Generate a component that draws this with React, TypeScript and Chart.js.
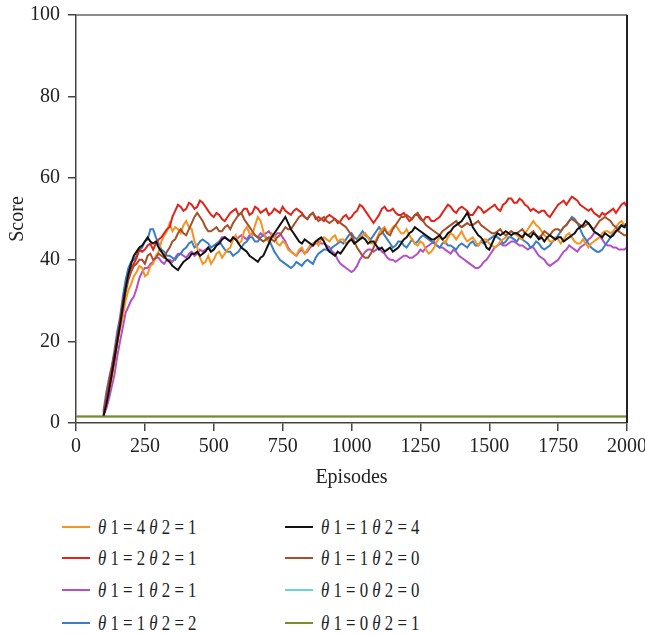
import React, { useEffect, useRef } from "react";
import { Chart, registerables } from "chart.js";

Chart.register(...registerables);

// Episode grid for the learning curves (every 10 episodes from 100 to 2000)
const EPISODES = [
  100, 110, 120, 130, 140, 150, 160, 170, 180, 190,
  200, 210, 220, 230, 240, 250, 260, 270, 280, 290,
  300, 310, 320, 330, 340, 350, 360, 370, 380, 390,
  400, 410, 420, 430, 440, 450, 460, 470, 480, 490,
  500, 510, 520, 530, 540, 550, 560, 570, 580, 590,
  600, 610, 620, 630, 640, 650, 660, 670, 680, 690,
  700, 710, 720, 730, 740, 750, 760, 770, 780, 790,
  800, 810, 820, 830, 840, 850, 860, 870, 880, 890,
  900, 910, 920, 930, 940, 950, 960, 970, 980, 990,
  1000, 1010, 1020, 1030, 1040, 1050, 1060, 1070, 1080, 1090,
  1100, 1110, 1120, 1130, 1140, 1150, 1160, 1170, 1180, 1190,
  1200, 1210, 1220, 1230, 1240, 1250, 1260, 1270, 1280, 1290,
  1300, 1310, 1320, 1330, 1340, 1350, 1360, 1370, 1380, 1390,
  1400, 1410, 1420, 1430, 1440, 1450, 1460, 1470, 1480, 1490,
  1500, 1510, 1520, 1530, 1540, 1550, 1560, 1570, 1580, 1590,
  1600, 1610, 1620, 1630, 1640, 1650, 1660, 1670, 1680, 1690,
  1700, 1710, 1720, 1730, 1740, 1750, 1760, 1770, 1780, 1790,
  1800, 1810, 1820, 1830, 1840, 1850, 1860, 1870, 1880, 1890,
  1900, 1910, 1920, 1930, 1940, 1950, 1960, 1970, 1980, 1990,
  2000,
];

const FLAT_EPISODES = [0, 2000];

const X_TICKS = [0, 250, 500, 750, 1000, 1250, 1500, 1750, 2000];
const Y_TICKS = [0, 20, 40, 60, 80, 100];

// θ1 = 4 θ2 = 1
const S_4_1 = [
  2, 5.5, 8, 11, 15, 19.5, 23, 26, 30, 32.5,
  34, 36, 37, 38.5, 38, 36, 36.5, 38.5, 39, 41,
  42, 44.5, 46, 47, 49, 47, 48, 47.5, 46.5, 48.5,
  49.5, 48, 47.5, 44.5, 43, 40.5, 39, 39.5, 41, 39,
  40, 41.5, 42, 40.5, 41.5, 42.5, 43, 45, 46, 44,
  44.5, 47, 48, 46.5, 46, 48.5, 50.5, 49.5, 47, 45,
  44.5, 46.5, 46, 44, 43.5, 44.5, 44, 42.5, 42, 41.5,
  41, 42.5, 43, 41.5, 42.5, 43.5, 44, 44.5, 43.5, 45,
  45.5, 45, 44.5, 45.5, 46, 44.5, 45, 45, 44, 44.5,
  45.5, 44, 44.5, 45.5, 46, 46.5, 45.5, 44, 44, 45,
  46.5, 47.5, 48, 46.5, 47, 48, 48.5, 47.5, 46.5, 46.5,
  47.5, 46, 45, 44, 43.5, 44.5, 44, 42.5, 41.5, 42,
  43, 44.5, 45.5, 45, 44, 45.5, 46.5, 46, 45, 46,
  47, 45.5, 44.5, 45, 45.5, 44.5, 43.5, 44.5, 45, 45,
  44, 43.5, 43, 43.5, 44.5, 45, 45.5, 46.5, 47, 46.5,
  46, 45.5, 45, 46.5, 47.5, 48.5, 49.5, 48.5, 48, 47,
  46, 45.5, 44.5, 44.5, 45.5, 45, 44, 45, 46, 46.5,
  45.5, 44.5, 44, 44, 45, 44, 43, 44, 44.5, 45,
  45.5, 46.5, 47, 47, 46.5, 47, 48, 49, 49.5, 48.5,
  49,
];

// θ1 = 2 θ2 = 1
const S_2_1 = [
  2.5, 6, 10, 13.5, 17, 21, 25, 29.5, 33, 36,
  38, 39, 40.5, 42.5, 42, 42.5, 43.5, 44, 42.5, 44,
  45, 45.5, 46.5, 47.5, 48, 50.5, 52, 53.5, 53, 52,
  52.5, 54, 53.5, 52.5, 53, 54.5, 54, 53, 52, 51,
  50.5, 51.5, 51, 50, 49.5, 50.5, 51.5, 52, 52.5, 51,
  51.5, 52.5, 52.5, 51, 51.5, 53, 52.5, 51.5, 52, 52.5,
  51, 51.5, 52.5, 52, 51.5, 53, 52, 51.5, 51, 52,
  52.5, 52, 51.5, 50.5, 50, 51, 51.5, 50, 50.5, 50,
  49.5, 50.5, 51, 50.5, 50, 49, 49.5, 50.5, 51, 50,
  50.5, 51.5, 52, 53.5, 53, 52, 51, 50, 49, 50,
  51, 52.5, 53, 52, 52, 52.5, 51.5, 51, 51, 51.5,
  50.5, 49.5, 50, 51, 51, 50, 49.5, 50.5, 50.5, 49.5,
  49.5, 50, 50.5, 51.5, 52.5, 53.5, 53, 52, 51.5, 52.5,
  53, 52.5, 52, 51, 51, 52, 53, 52.5, 51.5, 52,
  52.5, 53, 53.5, 52.5, 52, 53.5, 54, 55, 55, 54,
  54, 55, 54.5, 53.5, 53, 52, 52.5, 52, 51.5, 52,
  52, 51, 50.5, 51.5, 52.5, 53.5, 54, 54.5, 53.5, 54.5,
  55.5, 55, 54.5, 53.5, 53, 52.5, 52, 52.5, 51.5, 51,
  50.5, 51.5, 51, 51.5, 52, 52.5, 51.5, 52.5, 53.5, 54,
  53,
];

// θ1 = 1 θ2 = 1
const S_1_1 = [
  1.8, 3.5, 6, 9, 12, 16.5, 20, 23.5, 27, 28.5,
  30, 31, 33, 35.5, 37, 38, 38, 39, 39.5, 40.5,
  40.5, 39.5, 39, 40, 40, 39.5, 40.5, 41.5, 41.5, 41,
  40.5, 41.5, 42, 41, 41.5, 42.5, 42, 42.5, 43, 42,
  42.5, 43.5, 44.5, 45.5, 45.5, 45, 44.5, 45.5, 45, 45.5,
  46, 45.5, 45, 46, 46.5, 46, 45.5, 46.5, 46, 46.5,
  47, 46, 45.5, 46.5, 46.5, 45.5, 44.5, 43, 42, 41.5,
  41, 42, 42.5, 41.5, 42, 43, 43.5, 44, 44.5, 44,
  44, 43.5, 43, 42, 41.5, 40, 39, 38.5, 38, 37.5,
  37, 37.5, 38.5, 40, 41, 42, 42.5, 42.5, 42, 42.5,
  43, 42, 41.5, 40.5, 40, 40, 39.5, 40, 40.5, 41,
  41, 40.5, 40.5, 41, 41.5, 42.5, 42, 43, 43.5, 44,
  44.5, 43.5, 43, 43, 42.5, 42, 41.5, 42.5, 42, 41,
  40.5, 40, 39.5, 39, 38.5, 38, 38, 38.5, 39.5, 40,
  41, 42, 43, 43.5, 44, 43.5, 43.5, 44, 44.5, 44.5,
  44, 43.5, 43.5, 43, 42.5, 43, 43, 42, 41, 40.5,
  40, 39, 38.5, 39, 39.5, 40, 41, 42, 42.5, 43.5,
  43, 42.5, 42, 43, 43.5, 44, 45, 45.5, 46.5, 46.5,
  46, 45, 44, 43.5, 43.5, 43, 43, 42.5, 42.5, 42.5,
  43,
];

// θ1 = 1 θ2 = 2
const S_1_2 = [
  3, 7.5, 11, 14, 18, 22.5, 26, 31, 35, 38,
  39.5, 40, 41, 42.5, 43, 44.5, 45, 47.5, 47.5, 45.5,
  44, 42.5, 42, 41, 41, 40.5, 40, 41, 41.5, 42.5,
  43, 44, 44.5, 43, 43.5, 44.5, 45, 44.5, 44, 43,
  43.5, 44, 44.5, 43.5, 42.5, 42, 42, 41, 41.5, 42,
  43, 44, 44.5, 45.5, 45.5, 44.5, 44.5, 45.5, 46, 45.5,
  45, 43.5, 42, 41, 40, 39.5, 39, 38.5, 38, 38.5,
  39.5, 39, 38.5, 39.5, 40, 39.5, 39, 40.5, 41.5, 42,
  42.5, 42.5, 42, 43, 43.5, 44, 44.5, 44, 45, 46,
  46.5, 45.5, 45, 46, 47, 46, 45.5, 45, 46, 47,
  48, 47, 46, 45, 44, 43, 43.5, 44.5, 44.5, 43.5,
  43, 44, 45, 44, 44.5, 45.5, 46, 45.5, 45, 44.5,
  44, 43.5, 43, 44, 44.5, 43.5, 43.5, 43, 42.5, 43.5,
  44, 43.5, 43, 44, 44.5, 43.5, 43.5, 44.5, 44, 44.5,
  45, 45.5, 46, 45.5, 45, 44, 44.5, 45.5, 45.5, 45,
  44.5, 45.5, 45, 44.5, 44, 43, 43.5, 44.5, 44, 43,
  42.5, 43, 43.5, 44.5, 45, 46, 47, 48, 48.5, 49.5,
  50.5, 50, 49, 47.5, 46, 45, 44, 43, 42.5, 42,
  42, 42.5, 43.5, 44.5, 45.5, 46.5, 47, 48, 48.5, 48,
  48,
];

// θ1 = 1 θ2 = 4
const S_1_4 = [
  1.8, 4.5, 8, 12, 16, 20, 24, 28.5, 33, 36.5,
  39, 41, 42, 43, 43.5, 44.5, 45.5, 44.5, 44, 44.5,
  43, 42, 41, 40, 39.5, 38.5, 38, 37.5, 38.5, 39.5,
  40, 40.5, 41.5, 41.5, 42, 41, 41.5, 42, 43, 42,
  42.5, 43.5, 44, 45, 45.5, 45, 44.5, 45.5, 45, 44,
  43, 42.5, 42, 41, 40.5, 40, 39.5, 40.5, 41, 42.5,
  44, 45.5, 46.5, 47.5, 48.5, 49.5, 50.5, 49, 47.5, 46.5,
  45.5, 44.5, 44, 45, 44.5, 44, 43.5, 44.5, 45, 45.5,
  44.5, 43, 42, 41.5, 41, 42, 41.5, 42.5, 43.5, 44.5,
  45, 44, 44.5, 45, 45.5, 45, 44, 44.5, 44.5, 43.5,
  42.5, 43, 42, 42.5, 43, 42, 42.5, 43, 44, 45,
  45.5, 46.5, 47, 48, 47.5, 47, 46.5, 46, 45.5, 45,
  45, 45.5, 46, 45, 45.5, 46.5, 47, 48, 48.5, 49,
  49.5, 50.5, 51.5, 50, 48, 47, 46, 45.5, 44.5, 43,
  42.5, 44, 45.5, 46.5, 46, 46.5, 47, 46.5, 46, 46.5,
  46.5, 46, 45.5, 46.5, 46, 45.5, 46.5, 46, 45, 45.5,
  44.5, 45.5, 46, 45.5, 45, 45.5, 45.5, 44.5, 45, 45.5,
  46, 46.5, 47.5, 48, 48.5, 49.5, 49, 48, 47, 46.5,
  46, 45.5, 46.5, 46, 45.5, 46, 47, 47.5, 48.5, 48,
  49,
];

// θ1 = 1 θ2 = 0
const S_1_0 = [
  2, 5, 8.5, 12, 15.5, 20, 24, 28, 32, 35,
  37, 38.5, 39, 40, 40, 39, 41, 41.5, 40, 40.5,
  41.5, 41, 40.5, 42, 43, 44.5, 45, 46.5, 47.5, 46.5,
  46, 47.5, 49, 50.5, 51.5, 50.5, 49.5, 48, 47, 47,
  47.5, 48, 47, 47, 48, 48.5, 47.5, 49, 50, 51,
  51.5, 50, 49, 48, 47, 46, 45.5, 45, 44.5, 45,
  45.5, 45, 44.5, 45.5, 46, 47, 48, 47.5, 47.5, 48.5,
  49.5, 50.5, 51, 50.5, 50, 51, 51.5, 50.5, 49.5, 50,
  50.5, 49.5, 49, 49.5, 50, 49.5, 49, 48.5, 48, 47,
  46, 44.5, 43, 42, 41, 40.5, 40.5, 41.5, 43, 44.5,
  46, 46.5, 47.5, 46.5, 46, 47.5, 48.5, 49.5, 50.5, 50.5,
  51, 50.5, 50, 51, 51.5, 50.5, 49.5, 48.5, 48, 47.5,
  47, 46.5, 46, 47, 47.5, 48, 48.5, 49, 49.5, 48.5,
  48, 48.5, 49, 48.5, 48.5, 49, 49.5, 48.5, 48, 47.5,
  47, 46.5, 46.5, 47, 47.5, 46.5, 46, 46.5, 47, 46.5,
  46.5, 47, 47.5, 46.5, 46, 46.5, 47, 46, 45.5, 46,
  47, 46.5, 46, 47, 47.5, 47.5, 47, 48, 48.5, 49.5,
  50, 49.5, 49, 48.5, 48, 48.5, 49, 48, 47.5, 48.5,
  49.5, 50, 50.5, 50, 49.5, 48.5, 48, 47, 46.5, 46,
  46,
];

// θ1 = 0 θ2 = 0 and θ1 = 0 θ2 = 1 (flat)
const S_0_0 = [1.6, 1.6];
const S_0_1 = [1.6, 1.6];

const FONT = "'Liberation Serif', 'DejaVu Serif', serif";

type Series = { label: string; t1: string; t2: string; color: string; values: number[]; xs: number[]; order: number };

const SERIES: Series[] = [
  { label: "θ1=4 θ2=1", t1: "4", t2: "1", color: "#F7931E", values: S_4_1, xs: EPISODES, order: 3 },
  { label: "θ1=2 θ2=1", t1: "2", t2: "1", color: "#E2231A", values: S_2_1, xs: EPISODES, order: 2 },
  { label: "θ1=1 θ2=1", t1: "1", t2: "1", color: "#B44FC8", values: S_1_1, xs: EPISODES, order: 5 },
  { label: "θ1=1 θ2=2", t1: "1", t2: "2", color: "#3B7DC4", values: S_1_2, xs: EPISODES, order: 4 },
  { label: "θ1=1 θ2=4", t1: "1", t2: "4", color: "#111111", values: S_1_4, xs: EPISODES, order: 0 },
  { label: "θ1=1 θ2=0", t1: "1", t2: "0", color: "#A5502A", values: S_1_0, xs: EPISODES, order: 1 },
  { label: "θ1=0 θ2=0", t1: "0", t2: "0", color: "#6DD3D0", values: S_0_0, xs: FLAT_EPISODES, order: 7 },
  { label: "θ1=0 θ2=1", t1: "0", t2: "1", color: "#7E8B25", values: S_0_1, xs: FLAT_EPISODES, order: 6 },
];

const framePlugin = {
  id: "frame",
  afterDatasetsDraw(chart: any) {
    const { ctx, chartArea: a } = chart;
    ctx.save();
    ctx.strokeStyle = "#666";
    ctx.lineWidth = 1.5;
    ctx.beginPath();
    ctx.moveTo(a.left, a.top);
    ctx.lineTo(a.right, a.top);
    ctx.stroke();
    ctx.strokeStyle = "#222";
    ctx.lineWidth = 2;
    ctx.beginPath();
    ctx.moveTo(a.right, a.top);
    ctx.lineTo(a.right, a.bottom);
    ctx.stroke();
    ctx.restore();
  },
};

const LEGEND_ROWS = [527, 558, 590, 623];
const LEGEND_COLS = [62, 285];

export default function App() {
  const ref = useRef<HTMLCanvasElement>(null);

  useEffect(() => {
    const canvas = ref.current;
    if (!canvas) return;
    const chart = new Chart(canvas, {
      type: "line",
      data: {
        datasets: SERIES.map((s) => ({
          label: s.label,
          data: s.xs.map((x, i) => ({ x, y: s.values[i] })),
          borderColor: s.color,
          backgroundColor: s.color,
          borderWidth: 2,
          pointRadius: 0,
          tension: 0,
          fill: false,
          order: s.order,
        })),
      },
      options: {
        responsive: false,
        animation: false,
        devicePixelRatio: 1,
        layout: { padding: { top: 15, right: 38, bottom: 0, left: 0 } },
        plugins: { legend: { display: false }, tooltip: { enabled: false } },
        scales: {
          x: {
            type: "linear",
            min: 0,
            max: 2000,
            afterBuildTicks: (s: any) => {
              s.ticks = X_TICKS.map((v) => ({ value: v }));
            },
            afterFit: (s: any) => {
              s.height = 67;
              s.paddingLeft = 0;
              s.paddingRight = 0;
            },
            ticks: {
              autoSkip: false,
              maxRotation: 0,
              color: "#222",
              padding: 4,
              font: { family: FONT, size: 20 },
              callback: (v: any) => String(v),
            },
            grid: { drawOnChartArea: false, drawTicks: true, tickLength: 8, color: "#444", lineWidth: 1.5 },
            border: { display: true, color: "#444", width: 1.5 },
            title: { display: true, text: "Episodes", color: "#222", font: { family: FONT, size: 20 }, padding: 0 },
          },
          y: {
            type: "linear",
            min: 0,
            max: 100,
            afterBuildTicks: (s: any) => {
              s.ticks = Y_TICKS.map((v) => ({ value: v }));
            },
            afterFit: (s: any) => {
              s.width = 76;
              s.paddingTop = 0;
              s.paddingBottom = 0;
            },
            ticks: {
              color: "#222",
              padding: 8,
              font: { family: FONT, size: 20 },
              callback: (v: any) => String(v),
            },
            grid: { drawOnChartArea: false, drawTicks: true, tickLength: 8, color: "#444", lineWidth: 1.5 },
            border: { display: true, color: "#444", width: 1.5 },
            title: { display: true, text: "Score", color: "#222", font: { family: FONT, size: 20 }, padding: { top: 6, bottom: 0 } },
          },
        },
      },
      plugins: [framePlugin],
    });
    return () => chart.destroy();
  }, []);

  return (
    <div
      style={{
        position: "absolute",
        left: 0,
        top: 0,
        width: 645,
        height: 635,
        overflow: "hidden",
        background: "#fff",
      }}
    >
      <canvas ref={ref} width={665} height={490} style={{ display: "block", width: 665, height: 490 }} />
      {SERIES.map((s, i) => {
        const col = Math.floor(i / 4);
        const row = i % 4;
        return (
          <div
            key={s.label}
            style={{
              position: "absolute",
              left: LEGEND_COLS[col],
              top: LEGEND_ROWS[row] - 13,
              height: 26,
              display: "flex",
              alignItems: "center",
              fontFamily: FONT,
              fontSize: 20,
              color: "#222",
              whiteSpace: "pre",
            }}
          >
            <span style={{ display: "inline-block", width: 28, height: 2, background: s.color, marginRight: 8 }} />
            <span style={{ display: "inline-block", transform: "scaleX(0.84)", transformOrigin: "left center" }}>
              <i>θ</i> 1 = {s.t1} <i>θ</i> 2 = {s.t2}
            </span>
          </div>
        );
      })}
    </div>
  );
}
